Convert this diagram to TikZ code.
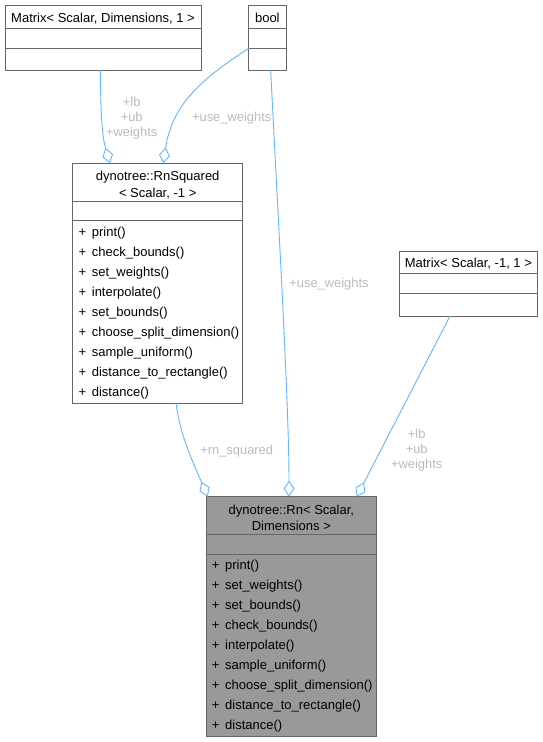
\documentclass[tikz,border=0pt]{standalone}
\usepackage{fontspec}
\setmainfont{Liberation Sans}
\usetikzlibrary{arrows.meta,calc}
\definecolor{edgec}{HTML}{63B8FF}
\definecolor{bordc}{HTML}{666666}
\definecolor{lblc}{HTML}{BBBBBB}
\definecolor{rnfill}{HTML}{999999}
\begin{document}
\begin{tikzpicture}[x=1pt,y=-1pt,
  box/.style={draw=bordc, line width=1pt, inner sep=0pt, outer sep=0pt},
  divider/.style={draw=bordc, line width=1pt},
  txt/.style={font=\fontsize{13}{16.5}\selectfont, inner sep=0pt, align=center},
  item/.style={font=\fontsize{13}{16}\selectfont, inner sep=0pt, anchor=base west},
  lab/.style={text=lblc, font=\fontsize{12.9}{15}\selectfont, align=center, inner sep=0pt},
  conn/.style={draw=edgec, line width=0.9pt, -{Diamond[open, length=16pt, width=11pt, line width=0.9pt]}}
]
\fill[white] (0,0) rectangle (543,742);
\useasboundingbox (0,0) rectangle (543,742);

% ---- boxes ----
\node[box, minimum width=196pt, minimum height=65.3pt] (m1) at (103,37.65) {};
\node[box, minimum width=37.3pt, minimum height=65.3pt] (bool) at (267.35,37.65) {};
\node[box, minimum width=170pt, minimum height=239.7pt] (rsq) at (157.7,283.15) {};
\node[box, minimum width=138.7pt, minimum height=64.3pt] (m2) at (468.35,283.85) {};
\node[box, fill=rnfill, minimum width=170.7pt, minimum height=240pt] (rn) at (291.35,616.7) {};

% ---- dividers ----
\draw[divider] (5,28.3) -- (201,28.3);
\draw[divider] (5,48.3) -- (201,48.3);
\draw[divider] (248.7,28.3) -- (286,28.3);
\draw[divider] (248.7,48.3) -- (286,48.3);
\draw[divider] (72.7,201) -- (242.7,201);
\draw[divider] (72.7,220.7) -- (242.7,220.7);
\draw[divider] (399,273.7) -- (537.7,273.7);
\draw[divider] (399,293.3) -- (537.7,293.3);
\draw[divider] (206,534.3) -- (376.7,534.3);
\draw[divider] (206,554) -- (376.7,554);

% ---- headers ----
\node[txt] (m1t) at (103,18.3) {Matrix< Scalar, Dimensions, 1 >};
\node[txt] (boolt) at (267.35,18.3) {bool};
\node[txt] (m2t) at (468.35,264) {Matrix< Scalar, -1, 1 >};
\node[txt] (rsqt) at (157.7,185) {dynotree::RnSquared\\< Scalar, -1 >};
\node[txt] (rnt) at (291.35,518) {dynotree::Rn< Scalar,\\Dimensions >};

% ---- RnSquared items ----
\node[item] (s1) at (78.3,236.4) {+ \,print()};
\node[item] (s2) at (78.3,256.4) {+ \,check\_bounds()};
\node[item] (s3) at (78.3,276.4) {+ \,set\_weights()};
\node[item] (s4) at (78.3,296.4) {+ \,interpolate()};
\node[item] (s5) at (78.3,316.4) {+ \,set\_bounds()};
\node[item] (s6) at (78.3,336.4) {+ \,choose\_split\_dimension()};
\node[item] (s7) at (78.3,356.4) {+ \,sample\_uniform()};
\node[item] (s8) at (78.3,376.4) {+ \,distance\_to\_rectangle()};
\node[item] (s9) at (78.3,396.4) {+ \,distance()};

% ---- Rn items ----
\node[item] (r1) at (211.6,569.7) {+ \,print()};
\node[item] (r2) at (211.6,589.7) {+ \,set\_weights()};
\node[item] (r3) at (211.6,609.7) {+ \,set\_bounds()};
\node[item] (r4) at (211.6,629.7) {+ \,check\_bounds()};
\node[item] (r5) at (211.6,649.7) {+ \,interpolate()};
\node[item] (r6) at (211.6,669.7) {+ \,sample\_uniform()};
\node[item] (r7) at (211.6,689.7) {+ \,choose\_split\_dimension()};
\node[item] (r8) at (211.6,709.7) {+ \,distance\_to\_rectangle()};
\node[item] (r9) at (211.6,729.7) {+ \,distance()};

% ---- connectors ----
\draw[conn] ([xshift=-2.3pt]m1.south) .. controls (100,115) and (103,140) .. ([xshift=-47.7pt]rsq.north);
\draw[conn] ([yshift=-10.65pt]bool.west) .. controls (200,80) and (172,105) .. ([xshift=5.6pt]rsq.north);
\draw[conn] ([xshift=3.35pt]bool.south) .. controls (277,200) and (289,400) .. ([xshift=-2.35pt]rn.north);
\draw[conn] ([xshift=18.3pt]rsq.south) .. controls (180,435) and (192,460) .. ([xshift=-83.65pt]rn.north);
\draw[conn] ([xshift=-18.35pt]m2.south) -- ([xshift=65.35pt]rn.north);

% ---- labels ----
\node[lab] (l1) at (131.7,118) {+lb\\+ub\\+weights};
\node[lab] (l2) at (231.7,118) {+use\_weights};
\node[lab] (l3) at (329,284) {+use\_weights};
\node[lab] (l4) at (236.7,450.7) {+rn\_squared};
\node[lab] (l5) at (416.7,450) {+lb\\+ub\\+weights};
\end{tikzpicture}
\end{document}
